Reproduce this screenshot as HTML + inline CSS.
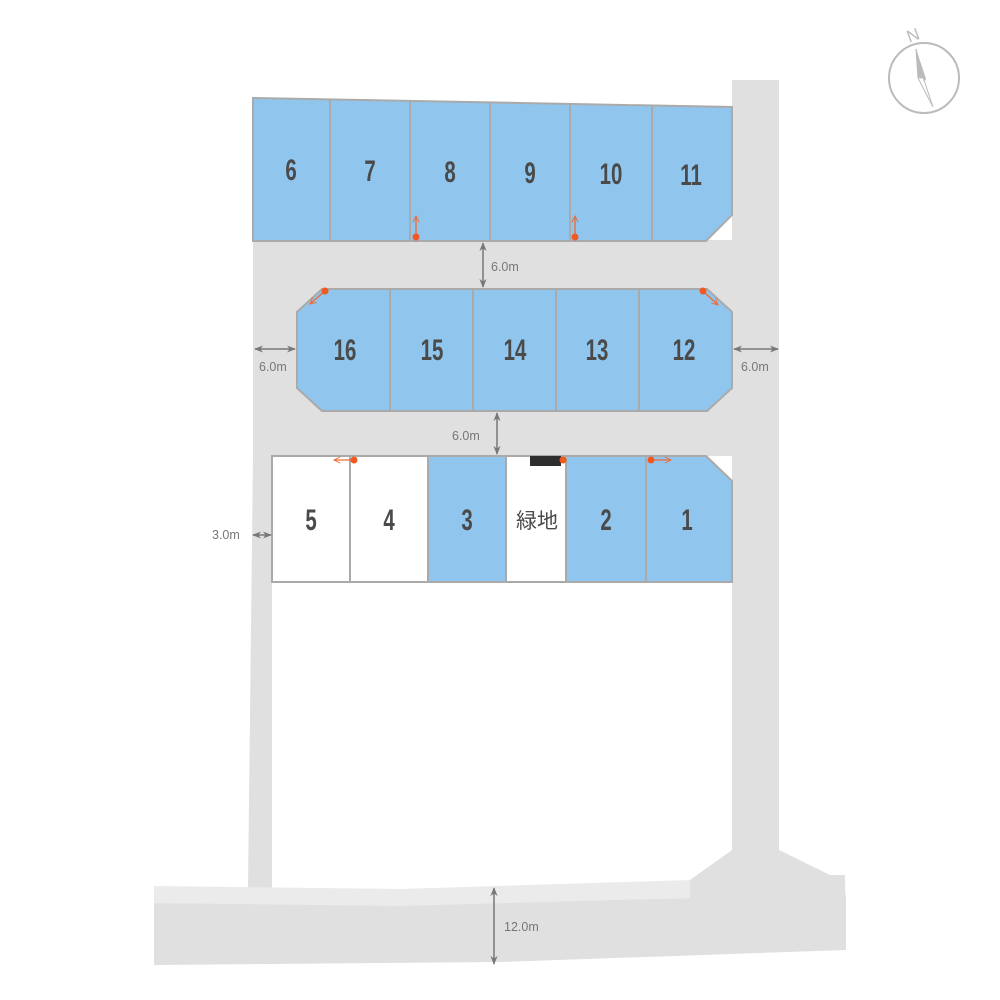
<!DOCTYPE html>
<html><head><meta charset="utf-8"><style>
html,body{margin:0;padding:0;background:#fff;}
svg{display:block}
.n text{font-family:"Liberation Sans",sans-serif;font-size:30px;font-weight:bold;fill:#4a4a4a;text-anchor:middle}
.d{font-family:"Liberation Sans",sans-serif;font-size:12.5px;fill:#777}
</style></head><body>
<svg width="1000" height="1000" viewBox="0 0 1000 1000" xmlns="http://www.w3.org/2000/svg">
<defs>
<marker id="ag" viewBox="0 0 10 10" refX="9" refY="5" markerWidth="6" markerHeight="6" orient="auto-start-reverse"><path d="M0,1 L10,5 L0,9 L3,5z" fill="#777"/></marker>
<marker id="ao" viewBox="0 0 10 10" refX="9" refY="5" markerWidth="6" markerHeight="6" orient="auto"><path d="M1,1 L9,5 L1,9" fill="none" stroke="#f06a30" stroke-width="1.2"/></marker>
</defs>
<g fill="#e0e0e0">
<rect x="253" y="240" width="526" height="216"/>
<rect x="732" y="80" width="47" height="780"/>
<polygon points="253,456 272,456 272,888 248,888"/>
<polygon points="732,850 779,850 830,875 845,875 846,950 690,950 690,880"/>
<polygon points="154,903 400,905 690,898 846,950 846,950 500,962 154,965"/>
<polygon points="690,895 846,895 846,950 690,952"/>
</g>
<polygon points="154,886 400,889 690,880 690,898 400,906 154,903" fill="#ebebeb"/>
<g stroke="#aaa" stroke-width="2">
<polygon points="253,98 732,107 732,215 706,241 253,241" fill="#90c6ee"/>
<line x1="330" y1="99" x2="330" y2="241"/><line x1="410" y1="101" x2="410" y2="241"/>
<line x1="490" y1="102" x2="490" y2="241"/><line x1="570" y1="104" x2="570" y2="241"/>
<line x1="652" y1="105" x2="652" y2="241"/>
<polygon points="322,289 707,289 732,312 732,388 707,411 322,411 297,388 297,312" fill="#90c6ee"/>
<line x1="390" y1="289" x2="390" y2="411"/><line x1="473" y1="289" x2="473" y2="411"/>
<line x1="556" y1="289" x2="556" y2="411"/><line x1="639" y1="289" x2="639" y2="411"/>
<polygon points="272,456 706,456 732,481 732,582 272,582" fill="#fff"/>
<rect x="428" y="456" width="78" height="126" fill="#90c6ee"/>
<polygon points="566,456 706,456 732,481 732,582 566,582" fill="#90c6ee"/>
<line x1="350" y1="456" x2="350" y2="582"/><line x1="646" y1="456" x2="646" y2="582"/>
</g>
<rect x="530" y="456" width="31" height="10" fill="#2e2e2e"/>
<g class="n">
<g transform="translate(291,180) scale(0.68,1)"><text>6</text></g>
<g transform="translate(370,181) scale(0.68,1)"><text>7</text></g>
<g transform="translate(450,182) scale(0.68,1)"><text>8</text></g>
<g transform="translate(530,183) scale(0.68,1)"><text>9</text></g>
<g transform="translate(611,184) scale(0.68,1)"><text>10</text></g>
<g transform="translate(691,185) scale(0.68,1)"><text>11</text></g>
<g transform="translate(345,360) scale(0.68,1)"><text>16</text></g>
<g transform="translate(432,360) scale(0.68,1)"><text>15</text></g>
<g transform="translate(515,360) scale(0.68,1)"><text>14</text></g>
<g transform="translate(597,360) scale(0.68,1)"><text>13</text></g>
<g transform="translate(684,360) scale(0.68,1)"><text>12</text></g>
<g transform="translate(311,530) scale(0.68,1)"><text>5</text></g>
<g transform="translate(389,530) scale(0.68,1)"><text>4</text></g>
<g transform="translate(467,530) scale(0.68,1)"><text>3</text></g>
<g transform="translate(606,530) scale(0.68,1)"><text>2</text></g>
<g transform="translate(687,530) scale(0.68,1)"><text>1</text></g>
</g>
<text x="537" y="528" style="font-family:'Noto Sans CJK JP',sans-serif;font-size:21px;fill:#4a4a4a;text-anchor:middle">緑地</text>
<g stroke="#777" stroke-width="1.5" fill="none">
<line x1="483" y1="243" x2="483" y2="287" marker-start="url(#ag)" marker-end="url(#ag)"/>
<line x1="255" y1="349" x2="295" y2="349" marker-start="url(#ag)" marker-end="url(#ag)"/>
<line x1="734" y1="349" x2="778" y2="349" marker-start="url(#ag)" marker-end="url(#ag)"/>
<line x1="497" y1="413" x2="497" y2="454" marker-start="url(#ag)" marker-end="url(#ag)"/>
<line x1="253" y1="535" x2="271" y2="535" marker-start="url(#ag)" marker-end="url(#ag)"/>
<line x1="494" y1="888" x2="494" y2="964" marker-start="url(#ag)" marker-end="url(#ag)"/>
</g>
<g class="d">
<text x="491" y="271">6.0m</text>
<text x="259" y="371">6.0m</text>
<text x="741" y="371">6.0m</text>
<text x="452" y="440">6.0m</text>
<text x="212" y="539">3.0m</text>
<text x="504" y="931">12.0m</text>
</g>
<g stroke="#f06a30" stroke-width="1.3" fill="none">
<line x1="416" y1="237" x2="416" y2="216" marker-end="url(#ao)"/>
<line x1="575" y1="237" x2="575" y2="216" marker-end="url(#ao)"/>
<line x1="325" y1="291" x2="310" y2="304" marker-end="url(#ao)"/>
<line x1="703" y1="291" x2="718" y2="305" marker-end="url(#ao)"/>
<line x1="354" y1="460" x2="334" y2="460" marker-end="url(#ao)"/>
<line x1="651" y1="460" x2="671" y2="460" marker-end="url(#ao)"/>
</g>
<g fill="#f05a20">
<circle cx="416" cy="237" r="3.5"/><circle cx="575" cy="237" r="3.5"/>
<circle cx="325" cy="291" r="3.5"/><circle cx="703" cy="291" r="3.5"/>
<circle cx="354" cy="460" r="3.5"/><circle cx="563" cy="460" r="3.5"/><circle cx="651" cy="460" r="3.5"/>
</g>
<circle cx="924" cy="78" r="35" fill="none" stroke="#bbb" stroke-width="2"/>
<polygon points="916,49 924,80 933,107 918,78" fill="#fff" stroke="#bbb" stroke-width="1"/>
<polygon points="916,49 926,79 924,82" fill="#bbb"/>
<polygon points="916,49 926,79 918,78" fill="#bbb"/>
<text x="913" y="41" transform="rotate(-20 913 35)" style="font-family:'Liberation Sans',sans-serif;font-size:17px;fill:#bbb;text-anchor:middle">N</text>
</svg>
</body></html>
